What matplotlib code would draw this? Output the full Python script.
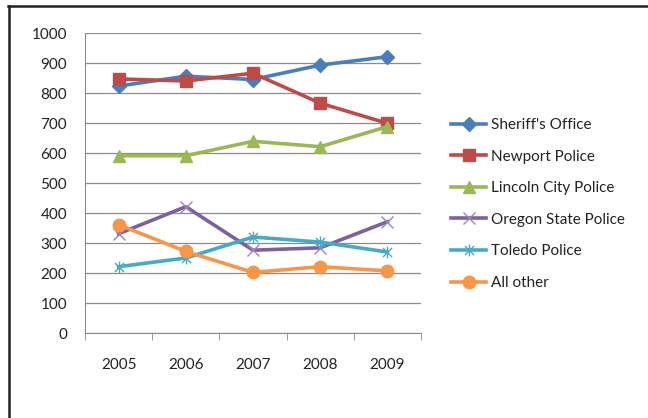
import matplotlib
matplotlib.use("Agg")
import matplotlib.pyplot as plt
from matplotlib.lines import Line2D
from matplotlib.path import Path

plt.rcParams['font.family'] = ['Lato', 'DejaVu Sans']

years = ['2005', '2006', '2007', '2008', '2009']
sheriff = [824, 857, 846, 894, 922]
newport = [848, 841, 867, 767, 700]
lincoln = [592, 592, 640, 622, 689]
oregon_state = [332, 422, 277, 285, 372]
toledo = [222, 251, 321, 304, 271]
all_other = [362, 273, 203, 222, 208]

names = ["Sheriff's Office", "Newport Police", "Lincoln City Police",
         "Oregon State Police", "Toledo Police", "All other"]
colors = ['#4A7EBB', '#BE4B48', '#98B954', '#7D60A0', '#46AAC5', '#F79646']

# excel style star marker: an x plus a vertical bar
star = Path([(-1, -1), (1, 1), (-1, 1), (1, -1), (0, -1.3), (0, 1.3)],
            [Path.MOVETO, Path.LINETO, Path.MOVETO, Path.LINETO, Path.MOVETO, Path.LINETO])

fig = plt.figure(figsize=(6.48, 4.18), dpi=100)
ax = fig.add_axes([85/648, 1-333.3/418, 336/648, 300/418])

x = list(range(len(years)))
series = [sheriff, newport, lincoln, oregon_state, toledo, all_other]
styles = [
    dict(marker='D', markersize=7),
    dict(marker='s', markersize=8),
    dict(marker='^', markersize=8.5),
    dict(marker='x', markersize=8.5, markeredgewidth=1.0, markeredgecolor='#9a86b8'),
    dict(marker=star, markersize=8.5, markeredgewidth=1.0),
    dict(marker='o', markersize=9),
]
for vals, name, c, st in zip(series, names, colors, styles):
    kw = dict(color=c, linewidth=2.6, label=name)
    kw.update(st)
    ax.plot(x, vals, **kw)

ax.set_xlim(-0.5, 4.5)
ax.set_ylim(0, 1000)
ax.set_yticks(range(0, 1001, 100))
ax.set_xticks(x)
ax.set_xticklabels(years)
ax.set_xticks([i - 0.5 for i in range(6)], minor=True)
ax.tick_params(axis='x', which='major', length=0, pad=18, labelsize=11, labelcolor='#222222')
ax.tick_params(axis='x', which='minor', length=5, direction='out', color='#888888')
ax.tick_params(axis='y', length=0, pad=13, labelsize=11, labelcolor='#222222')
ax.grid(axis='y', color='#8c8c8c', linewidth=0.9)
ax.set_axisbelow(True)
for s in ['top', 'right']:
    ax.spines[s].set_visible(False)
ax.spines['left'].set_color('#8c8c8c')
ax.spines['bottom'].set_color('#8c8c8c')

leg = fig.legend(loc='center left', bbox_to_anchor=(445/648, 1-204/418),
                 frameon=False, fontsize=11, handlelength=2.3,
                 handletextpad=0.3, labelspacing=1.15, borderaxespad=0)
for t in leg.get_texts():
    t.set_color('#222222')

# outer frame (only top and left visible in the crop)
fig.add_artist(Line2D([8/648, 1], [1-6/418, 1-6/418], color='#222222', linewidth=1.8))
fig.add_artist(Line2D([9/648, 9/648], [0, 1-6/418], color='#222222', linewidth=1.8))

fig.savefig('out.png', dpi=100)
